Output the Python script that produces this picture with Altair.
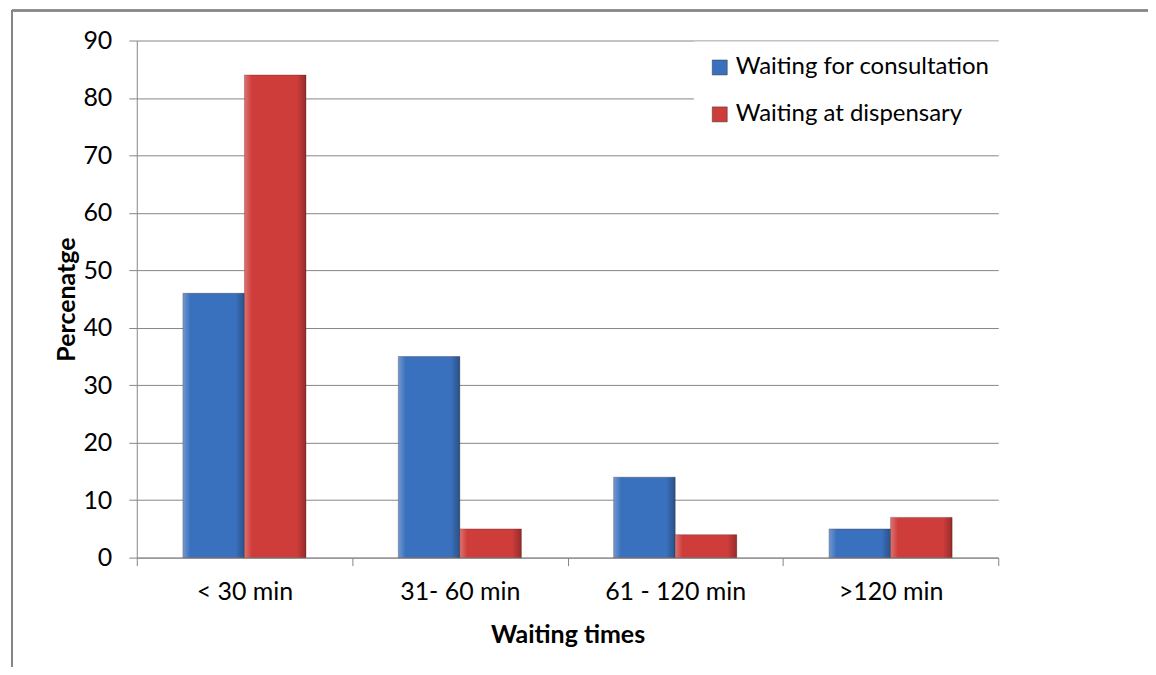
import altair as alt
import pandas as pd

categories = ["< 30 min", "31- 60 min", "61 - 120 min", ">120 min"]
series = ["Waiting for consultation", "Waiting at dispensary"]
consultation = [46, 35, 14, 5]
dispensary = [84, 5, 4, 7]
colors = ["#3a71be", "#cf3d3b"]
y_ticks = [0, 10, 20, 30, 40, 50, 60, 70, 80, 90]

rows = []
for i, c in enumerate(categories):
    rows.append({"cat": c, "series": series[0], "value": consultation[i]})
    rows.append({"cat": c, "series": series[1], "value": dispensary[i]})
df = pd.DataFrame(rows)

FONT = "Lato"

x_enc = alt.X("cat:N", sort=categories,
              scale=alt.Scale(paddingInner=0, paddingOuter=0),
              axis=alt.Axis(title="Waiting times", labelAngle=0, tickBand="extent",
                            domainColor="#868686", tickColor="#868686", tickSize=8,
                            labelFontSize=25, labelColor="#000000", labelPadding=14,
                            titleFontSize=25, titleFontWeight="bold", titleColor="#000000",
                            titlePadding=18, grid=False))
xo_enc = alt.XOffset("series:N", sort=series,
                     scale=alt.Scale(paddingOuter=0.75, paddingInner=0))
y_enc = alt.Y("value:Q",
              scale=alt.Scale(domain=[0, 90], nice=False),
              axis=alt.Axis(title="Percenatge", values=y_ticks, grid=True,
                            gridColor="#868686", gridWidth=1,
                            domainColor="#868686", tickColor="#868686", tickSize=8,
                            labelFontSize=25, labelColor="#000000", labelPadding=17,
                            titleFontSize=25, titleFontWeight="bold", titleColor="#000000",
                            titlePadding=3))

bars = alt.Chart(df).mark_bar(stroke="#3a1010", strokeWidth=0.6, strokeOpacity=0.5).encode(
    x=x_enc, xOffset=xo_enc, y=y_enc,
    color=alt.Color("series:N", sort=series,
                    scale=alt.Scale(domain=series, range=colors),
                    legend=alt.Legend(title=None, orient="none", legendX=558, legendY=1,
                                      fillColor="white", padding=14, rowPadding=23,
                                      symbolType="square", symbolSize=225,
                                      symbolStrokeColor="#333333", symbolStrokeWidth=0.5,
                                      labelFontSize=24, labelColor="#000000",
                                      labelLimit=400, symbolOffset=0, labelOffset=4)),
)

shade = alt.Chart(df).mark_bar(
    fill=alt.Gradient(gradient="linear", x1=0, x2=1, y1=0, y2=0, stops=[
        alt.GradientStop(color="rgba(255,255,255,0.28)", offset=0),
        alt.GradientStop(color="rgba(255,255,255,0.0)", offset=0.12),
        alt.GradientStop(color="rgba(0,0,0,0.0)", offset=0.85),
        alt.GradientStop(color="rgba(0,0,0,0.28)", offset=1),
    ])
).encode(x=alt.X("cat:N", sort=categories), xOffset=alt.XOffset("series:N", sort=series),
         y=alt.Y("value:Q"))

frame_left = alt.Chart(df).mark_rule(color="#868686", strokeWidth=1.5).encode(
    x=alt.value(-125), y=alt.value(-30), y2=alt.value(700))
frame_top = alt.Chart(df).mark_rule(color="#868686", strokeWidth=1.5).encode(
    x=alt.value(-125), x2=alt.value(1100), y=alt.value(-30))

chart = alt.layer(bars, shade, frame_left, frame_top).properties(
    width=863, height=518,
    autosize=alt.AutoSizeParams(type="none"),
    padding={"left": 129, "top": 32, "right": 150, "bottom": 109},
).configure(font=FONT).configure_view(stroke=None)

chart.save("out.html", embed_options={"renderer": "svg", "actions": False})
